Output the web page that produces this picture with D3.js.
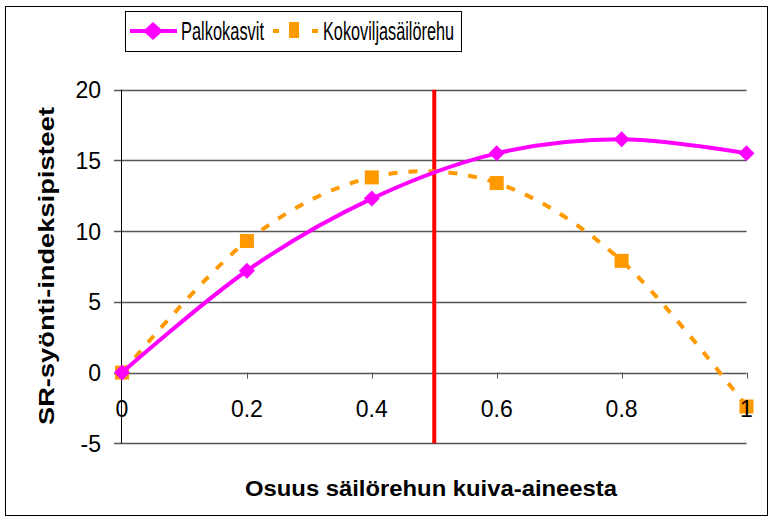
<!DOCTYPE html>
<html>
<head>
<meta charset="utf-8">
<style>
body { margin: 0; background: #fff; }
svg { font-family: "Liberation Sans", Arial, sans-serif; }
</style>
</head>
<body>
<svg width="771" height="519"></svg>
<script src="https://cdn.jsdelivr.net/npm/d3@7"></script>
<script>

var osuus = [0, 0.2, 0.4, 0.6, 0.8, 1];
var palkokasvit = [0, 7.2, 12.3, 15.5, 16.5, 15.5];
var kokovilja = [0, 9.3, 13.8, 13.4, 7.9, -2.4];
var yTicks = [-5, 0, 5, 10, 15, 20];
var xTicks = [0, 0.2, 0.4, 0.6, 0.8, 1];
var rajaArvo = 0.5;

var svg = d3.select("svg");

// outer frame
svg.append("rect")
    .attr("x", 5.5).attr("y", 6.5)
    .attr("width", 762).attr("height", 509)
    .attr("fill", "none").attr("stroke", "#000").attr("stroke-width", 1);

var x = d3.scaleLinear().domain([0, 1]).range([122, 746.5]);
var y = d3.scaleLinear().domain([-5, 20]).range([443.3, 89.7]);

// gridlines
svg.append("g").selectAll("line")
    .data(yTicks).enter().append("line")
    .attr("x1", 114).attr("x2", x(1))
    .attr("y1", function(d){ return Math.round(y(d)) + 0.5; })
    .attr("y2", function(d){ return Math.round(y(d)) + 0.5; })
    .attr("stroke", "#555").attr("stroke-width", 1.3);

// y axis line
svg.append("line")
    .attr("x1", x(0) - 0.5).attr("x2", x(0) - 0.5)
    .attr("y1", y(20)).attr("y2", y(-5))
    .attr("stroke", "#000").attr("stroke-width", 1);

// y tick labels
svg.append("g").selectAll("text")
    .data(yTicks).enter().append("text")
    .attr("x", 101).attr("y", function(d){ return y(d) + 8.5; })
    .attr("text-anchor", "end")
    .attr("font-size", 23)
    .text(function(d){ return d; });

// x axis ticks at y = 0
svg.append("g").selectAll("line")
    .data(xTicks).enter().append("line")
    .attr("x1", function(d){ return Math.round(x(d)) + 0.5; })
    .attr("x2", function(d){ return Math.round(x(d)) + 0.5; })
    .attr("y1", y(0)).attr("y2", y(0) + 6)
    .attr("stroke", "#555").attr("stroke-width", 1);

// red reference line
svg.append("line")
    .attr("x1", x(rajaArvo)).attr("x2", x(rajaArvo))
    .attr("y1", y(20)).attr("y2", y(-5))
    .attr("stroke", "#ff0000").attr("stroke-width", 4);

var line = d3.line()
    .x(function(d, i){ return x(osuus[i]); })
    .y(function(d){ return y(d); })
    .curve(d3.curveCatmullRom.alpha(0));

// Kokoviljasäilörehu
svg.append("path")
    .datum(kokovilja)
    .attr("d", line)
    .attr("fill", "none")
    .attr("stroke", "#ff9900")
    .attr("stroke-width", 4)
    .attr("stroke-dasharray", "9,11");

svg.append("g").selectAll("rect")
    .data(kokovilja).enter().append("rect")
    .attr("x", function(d, i){ return x(osuus[i]) - 7; })
    .attr("y", function(d){ return y(d) - 7; })
    .attr("width", 14).attr("height", 14)
    .attr("fill", "#ff9900");

// Palkokasvit
svg.append("path")
    .datum(palkokasvit)
    .attr("d", line)
    .attr("fill", "none")
    .attr("stroke", "#ff00ff")
    .attr("stroke-width", 4);

var diamond = "M0,-8L8,0L0,8L-8,0Z";
svg.append("g").selectAll("path")
    .data(palkokasvit).enter().append("path")
    .attr("d", diamond)
    .attr("transform", function(d, i){ return "translate(" + x(osuus[i]) + "," + y(d) + ")"; })
    .attr("fill", "#ff00ff");

// x tick labels drawn on top of the series
svg.append("g").selectAll("text")
    .data(xTicks).enter().append("text")
    .attr("x", function(d){ return x(d); })
    .attr("y", y(0) + 44)
    .attr("text-anchor", "middle")
    .attr("font-size", 23)
    .text(function(d){ return d; });

// axis titles
svg.append("text")
    .attr("transform", "translate(54,266) rotate(-90)")
    .attr("text-anchor", "middle")
    .attr("font-size", 22)
    .attr("font-weight", "bold")
    .attr("textLength", 318).attr("lengthAdjust", "spacingAndGlyphs")
    .text("SR-syönti-indeksipisteet");

svg.append("text")
    .attr("x", 431).attr("y", 496)
    .attr("text-anchor", "middle")
    .attr("font-size", 22)
    .attr("font-weight", "bold")
    .attr("textLength", 372).attr("lengthAdjust", "spacingAndGlyphs")
    .text("Osuus säilörehun kuiva-aineesta");

// legend
var legend = svg.append("g");
legend.append("rect")
    .attr("x", 125.5).attr("y", 11.5)
    .attr("width", 336).attr("height", 40)
    .attr("fill", "#fff").attr("stroke", "#000").attr("stroke-width", 1);

legend.append("line")
    .attr("x1", 130).attr("x2", 177).attr("y1", 31).attr("y2", 31)
    .attr("stroke", "#ff00ff").attr("stroke-width", 4);
legend.append("path")
    .attr("d", "M0,-9L10,0L0,9L-10,0Z")
    .attr("transform", "translate(153,31)")
    .attr("fill", "#ff00ff");
legend.append("text")
    .attr("x", 181).attr("y", 40)
    .attr("font-size", 25)
    .attr("textLength", 83).attr("lengthAdjust", "spacingAndGlyphs")
    .text("Palkokasvit");

legend.append("line")
    .attr("x1", 273).attr("x2", 279).attr("y1", 31).attr("y2", 31)
    .attr("stroke", "#ff9900").attr("stroke-width", 4);
legend.append("line")
    .attr("x1", 312).attr("x2", 318).attr("y1", 31).attr("y2", 31)
    .attr("stroke", "#ff9900").attr("stroke-width", 4);
legend.append("rect")
    .attr("x", 289).attr("y", 22)
    .attr("width", 10).attr("height", 16)
    .attr("fill", "#ff9900");
legend.append("text")
    .attr("x", 323).attr("y", 40)
    .attr("font-size", 25)
    .attr("textLength", 131).attr("lengthAdjust", "spacingAndGlyphs")
    .text("Kokoviljasäilörehu");

</script>
</body>
</html>
